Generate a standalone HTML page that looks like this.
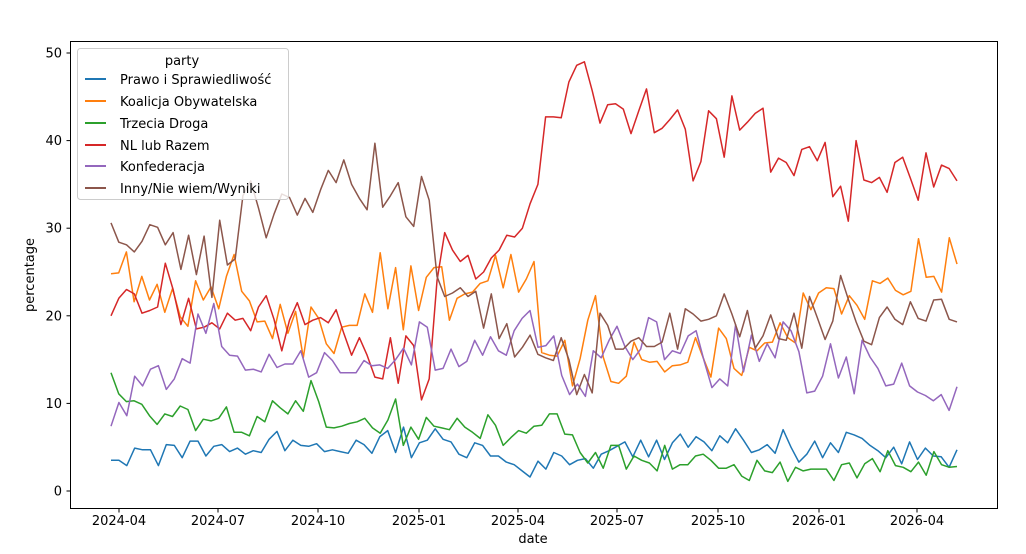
<!DOCTYPE html>
<html><head><meta charset="utf-8"><style>
body{margin:0;background:#fff}
svg{display:block;font-family:"DejaVu Sans","Liberation Sans",sans-serif}
</style></head><body>
<svg id="s" width="1026" height="554" xmlns="http://www.w3.org/2000/svg">
<rect width="1026" height="554" fill="#fff"/>
<g id="lines"></g>
<rect x="70.5" y="41.5" width="927" height="467" fill="none" stroke="#000" stroke-width="1"/>
<g id="ticks" font-size="13" fill="#000"></g>
<text x="533" y="543" font-size="13" text-anchor="middle">date</text>
<text transform="translate(34,275) rotate(-90)" font-size="13" text-anchor="middle">percentage</text>
<g>
<rect x="77.5" y="48.5" width="211" height="151" rx="3" fill="#fff" fill-opacity="0.8" stroke="#ccc"/>
<text x="182" y="65" font-size="13" text-anchor="middle">party</text>
<g font-size="13">
<line x1="85" x2="106" y1="79" y2="79" stroke="#1f77b4" stroke-width="2"/><text x="120" y="84">Prawo i Sprawiedliwość</text>
<line x1="85" x2="106" y1="101" y2="101" stroke="#ff7f0e" stroke-width="2"/><text x="120" y="106">Koalicja Obywatelska</text>
<line x1="85" x2="106" y1="123" y2="123" stroke="#2ca02c" stroke-width="2"/><text x="120" y="128">Trzecia Droga</text>
<line x1="85" x2="106" y1="145" y2="145" stroke="#d62728" stroke-width="2"/><text x="120" y="150">NL lub Razem</text>
<line x1="85" x2="106" y1="166" y2="166" stroke="#9467bd" stroke-width="2"/><text x="120" y="171">Konfederacja</text>
<line x1="85" x2="106" y1="188" y2="188" stroke="#8c564b" stroke-width="2"/><text x="120" y="193">Inny/Nie wiem/Wyniki</text>
</g></g>
</svg>
<script>
var Y=function(v){return 491-8.76*v};
var S=[
["#1f77b4",[3.5,3.5,2.9,4.9,4.7,4.7,2.9,5.3,5.2,3.8,5.7,5.7,4,5.1,5.3,4.5,4.9,4.2,4.6,4.4,5.9,6.8,4.6,5.8,5.2,5.1,5.4,4.5,4.7,4.5,4.3,5.8,5.3,4.3,6.2,6.9,4.4,7.3,3.8,5.5,5.8,7.1,5.9,5.6,4.2,3.8,5.5,5.2,4,4,3.3,3,2.3,1.6,3.4,2.5,4.4,4,3,3.5,3.7,2.6,4.2,4.6,5.1,5.6,3.9,5.8,3.9,5.8,3.6,5.5,6.5,5,6.2,5.6,4.6,6.3,5.5,7.1,5.8,4.4,4.7,5.3,4.3,7,5,3.3,4.2,5.7,3.8,5.5,4.4,6.7,6.4,6,5.2,4.6,3.8,5,3.1,5.6,3.6,4.9,4,3.9,2.7,4.7]],
["#ff7f0e",[24.8,24.9,27.3,21.6,24.5,21.8,23.6,20.4,23.1,19.9,18.8,24,21.8,23.3,20.8,24.5,27,22.8,21.7,19.3,19.4,17.4,21.3,18,20.5,15.2,21,19.7,16.8,15.7,18.7,18.9,18.9,22.5,20.4,27.2,20.8,25.5,18.4,25.7,20.6,24.4,25.5,25.6,19.5,22,22.5,22.7,23.7,24,26.9,23.2,27,22.7,24.2,26.2,15.8,15.5,15.4,17.2,12,15.1,19.5,22.3,15.3,12.5,12.3,13.1,17,15,14.7,14.8,13.6,14.3,14.4,14.7,17.5,15.2,13,18.6,17.4,14,13.2,16.4,16,16.9,17,19.2,17.5,16.9,22.6,20.7,22.6,23.2,23.1,20.2,22.3,21.2,19.6,24,23.7,24.3,22.9,22.4,22.8,28.8,24.4,24.5,22.7,28.9,25.9]],
["#2ca02c",[13.5,11.1,10.2,10.3,9.9,8.6,7.6,8.8,8.5,9.7,9.3,6.9,8.2,8,8.3,9.6,6.7,6.7,6.3,8.5,7.9,10.3,9.5,8.8,10.3,9.1,12.6,10.2,7.3,7.2,7.4,7.7,7.9,8.3,7.2,6.6,8.1,10.5,5.2,7.3,5.9,8.4,7.4,7.2,7,8.3,7.3,6.7,6,8.7,7.5,5.2,6.1,6.9,6.6,7.4,7.5,8.8,8.8,6.5,6.4,4.4,3.2,4.4,2.6,5.2,5.2,2.5,4,3.5,3.2,2.3,5.2,2.5,3,3,4,4.2,3.5,2.6,2.6,3,1.7,1.2,3.5,2.3,2.1,3.3,1.1,2.7,2.3,2.5,2.5,2.5,1.2,3,3.2,1.5,3.1,3.7,2.2,4.6,2.9,2.7,2.2,3.3,1.8,4.5,3,2.7,2.8]],
["#d62728",[20,22,23,22.5,20.3,20.6,21,26,23,19,22,18.5,18.7,19.2,18.5,20.3,19.5,19.7,18.3,21,22.3,19.6,16,19.5,21.5,19,19.5,19.8,19.2,20.7,18,15.5,17.5,15.5,13,12.8,17.5,12.3,17.7,16.6,10.4,12.8,24,29.5,27.5,26.2,26.9,24.2,25,26.6,27.5,29.2,29,30,32.8,35,42.7,42.7,42.6,46.7,48.6,49,45.7,42,44.1,44.2,43.6,40.8,43.4,45.9,40.9,41.4,42.4,43.5,41.3,35.4,37.6,43.4,42.5,38.1,45.1,41.2,42.1,43.1,43.7,36.4,38,37.5,36,39,39.3,37.7,39.8,33.6,34.8,30.8,40,35.5,35.2,35.8,34.1,37.5,38.1,35.7,33.2,38.6,34.7,37.2,36.8,35.4]],
["#9467bd",[7.4,10.1,8.6,13.1,12,13.9,14.3,11.6,12.8,15.1,14.6,20.2,18,21.4,16.5,15.5,15.4,13.8,13.9,13.6,15.6,14.1,14.5,14.5,16,13,13.5,15.8,14.9,13.5,13.5,13.5,14.9,14.3,14.4,14,15,16.3,14.4,19.3,18.7,13.8,14,16.2,14.2,14.8,17.2,15.5,17.6,16,15.5,18.3,19.7,20.6,16.4,16.6,17.7,13.2,11,12.2,10.8,16,15.2,17.2,18.8,16.5,15,16.2,19.8,19.3,15,16,15.7,17.7,18.3,14.9,11.8,12.8,12,19,13.6,17.8,14.8,16.8,15.2,19.3,18.3,15.9,11.2,11.4,13.1,16.8,12.9,15.3,11.1,17.2,15.3,14,12,12.2,14.6,12,11.3,10.9,10.3,11,9.2,11.9]],
["#8c564b",[30.6,28.4,28.1,27.3,28.5,30.4,30.1,28.1,29.5,25.3,29.2,24.7,29.1,22.1,30.9,25.8,26.5,33.7,35.4,32.3,28.9,31.6,33.9,33.5,31.5,33.4,31.8,34.4,36.6,35.2,37.8,35,33.4,32.1,39.7,32.4,33.7,35.2,31.3,30.2,35.9,33.2,24.5,22.2,22.6,23.2,22.2,22.8,18.6,22.5,17.4,19.1,15.3,16.4,17.8,15.6,15.2,14.9,17.5,15,11,13.3,11.2,20.3,18.9,16.2,16.2,17.1,17.5,16.5,16.5,17,20.3,16.2,20.8,20.2,19.4,19.6,20,22.5,20.2,17.6,20.6,16.3,17.7,20.1,17.4,17.2,20.3,16.3,22.2,19.8,17.3,19.4,24.6,21.9,19.3,17.1,16.7,19.8,21,19.6,19,21.6,19.7,19.4,21.8,21.9,19.6,19.3]]];
var g=document.getElementById('lines'),h='';
S.forEach(function(s){var d=s[1],n=d.length,p=d.map(function(v,i){return (111+(957-111)*i/(n-1)).toFixed(1)+','+Y(v).toFixed(1)}).join(' ');
h+='<polyline points="'+p+'" fill="none" stroke="'+s[0]+'" stroke-width="1.5" stroke-linejoin="round"/>';});
g.innerHTML=h;
var t='';
[0,10,20,30,40,50].forEach(function(v){var y=Y(v);t+='<line x1="66.5" x2="70.5" y1="'+y+'" y2="'+y+'" stroke="#000"/><text x="62" y="'+(y+4.5)+'" text-anchor="end">'+v+'</text>';});
[[119,"2024-04"],[218,"2024-07"],[318,"2024-10"],[419,"2025-01"],[518,"2025-04"],[617,"2025-07"],[718,"2025-10"],[819,"2026-01"],[917,"2026-04"]].forEach(function(a){t+='<line x1="'+a[0]+'" x2="'+a[0]+'" y1="508.5" y2="512.5" stroke="#000"/><text x="'+a[0]+'" y="525" text-anchor="middle">'+a[1]+'</text>';});
document.getElementById('ticks').innerHTML=t;
</script>
</body></html>
